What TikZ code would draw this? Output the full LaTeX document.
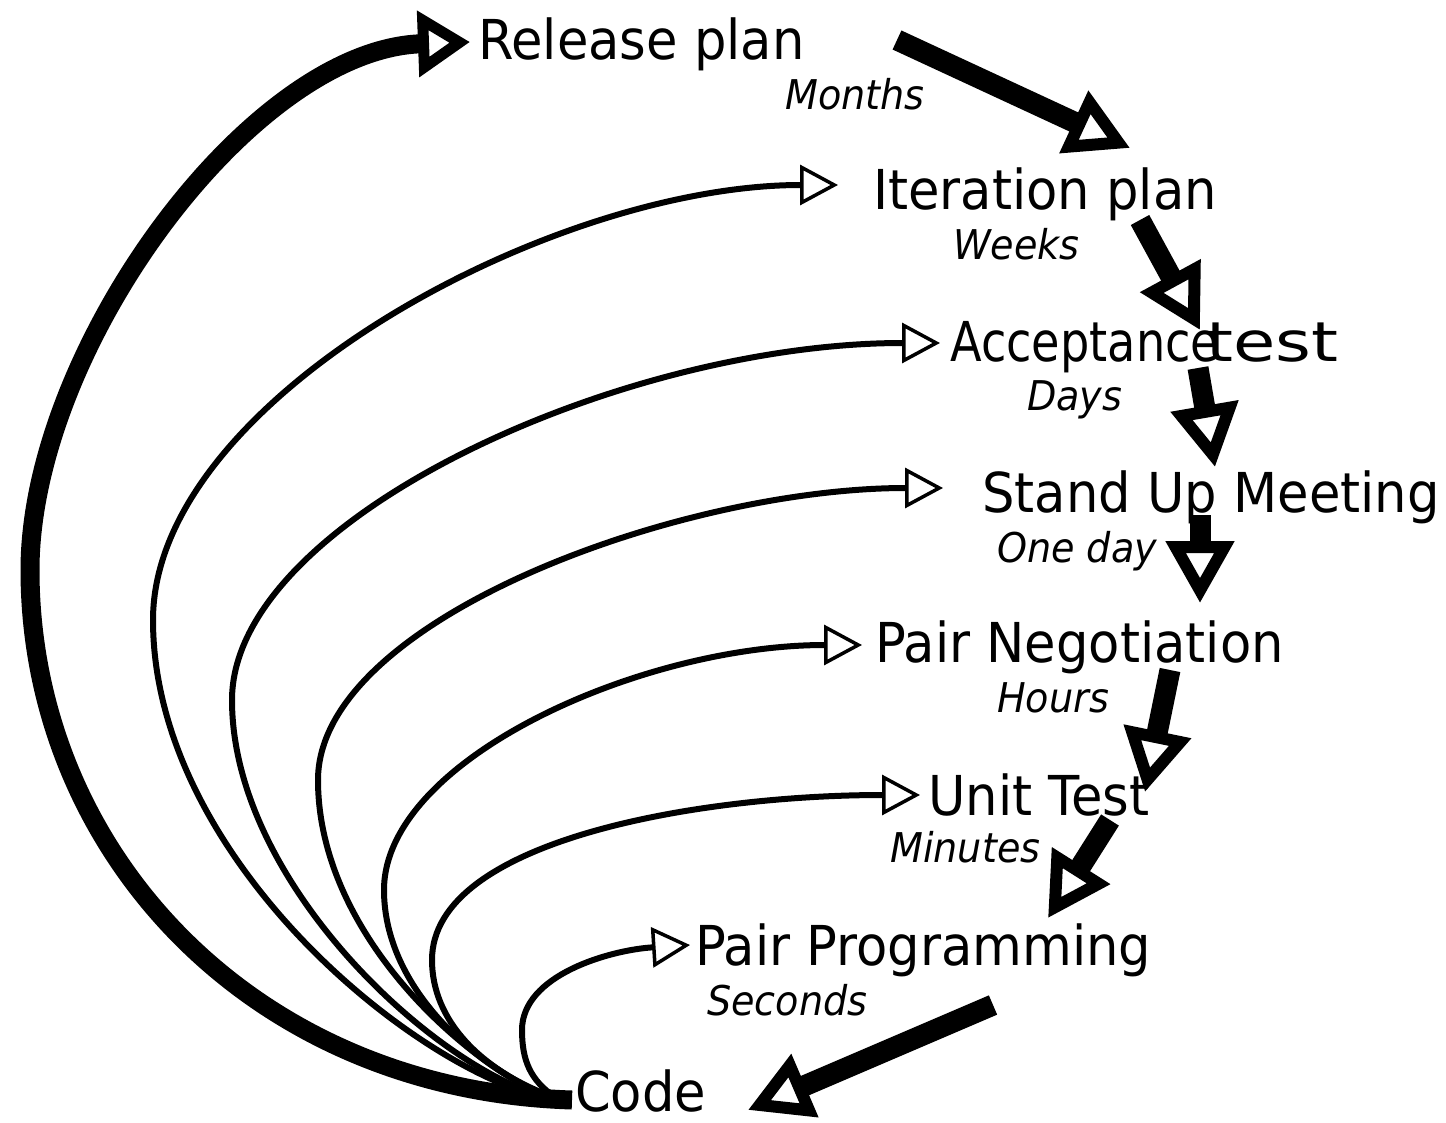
\documentclass[tikz,border=0pt]{standalone}
\usepackage{fontspec}
\setmainfont{DejaVu Sans}[FakeStretch=0.93]
\newfontfamily\accfont{DejaVu Sans}[FakeStretch=0.84]
\newfontfamily\testfont{DejaVu Sans}[FakeStretch=1.25]
\usetikzlibrary{arrows.meta}
\begin{document}
\begin{tikzpicture}[x=1pt,y=-1pt,
  lbl/.style={anchor=base west, inner sep=0pt, font=\fontsize{55}{60}\selectfont},
  tm/.style={anchor=base west, inner sep=0pt, font=\fontsize{41}{46}\selectfont\itshape},
  chain/.style={line width=21pt, -{Triangle[open, length=62pt, width=66pt, line width'=12pt]}},
  back/.style={line width=19pt, -{Triangle[open, length=52pt, width=64pt, line width'=11pt]}},
  thin/.style={line width=6pt, -{Triangle[open, length=38pt, width=40pt, line width'=3.5pt]}},
]
\useasboundingbox (0,0) rectangle (1446,1123);

\node[lbl] (rel) at (478,60) {Release plan};
\node[tm] (mon) at (785,110) {Months};
\node[lbl] (itr) at (873,210) {Iteration plan};
\node[tm] (wks) at (953,260) {Weeks};
\node[lbl,font=\fontsize{55}{60}\accfont] (acc) at (950,362) {Acceptance};
\node[lbl,font=\fontsize{55}{60}\testfont] (acct) at (1206,362) {test};
\node[tm] (days) at (1027,410) {Days};
\node[lbl] (sum) at (982,512) {Stand Up Meeting};
\node[tm] (oneday) at (997,562) {One day};
\node[lbl] (pn) at (875,662) {Pair Negotiation};
\node[tm] (hrs) at (997,712) {Hours};
\node[lbl] (ut) at (928,815) {Unit Test};
\node[tm] (mins) at (890,862) {Minutes};
\node[lbl] (pp) at (695,965) {Pair Programming};
\node[tm] (secs) at (707,1015) {Seconds};
\node[lbl] (code) at (575,1111) {Code};

% chain arrows
\draw[chain] ([shift={(419,-20)}]rel.base west) -- ([shift={(257,-62)}]itr.base west);
\draw[chain] ([shift={(267,10)}]itr.base west) -- ([shift={(250,-32)}]acc.base west);
\draw[chain] ([shift={(248,6)}]acc.base west) -- ([shift={(233,-45)}]sum.base west);
\draw[chain] ([shift={(218,3)}]sum.base west) -- ([shift={(325,-59)}]pn.base west);
\draw[chain] ([shift={(295,8)}]pn.base west) -- ([shift={(217,-23)}]ut.base west);
\draw[chain] ([shift={(182,5)}]ut.base west) -- ([shift={(353,-47)}]pp.base west);
\draw[chain] ([shift={(298,40)}]pp.base west) -- ([shift={(173,-1)}]code.base west);

% back arrow code -> release
\draw[back] ([shift={(-3,-11)}]code.base west) .. controls (250,1090) and (30,850) .. (30,570)
  .. controls (30,350) and (250,50) .. ([shift={(-8,-18)}]rel.base west);

% thin arrows from code
\draw[thin] ([shift={(-35,-14)}]code.base west) .. controls (400,1060) and (153,850) .. (153,620)
  .. controls (153,400) and (550,185) .. ([shift={(-35,-25)}]itr.base west);
\draw[thin] ([shift={(-30,-14)}]code.base west) .. controls (430,1065) and (232,880) .. (232,700)
  .. controls (232,520) and (620,343) .. ([shift={(-10,-19)}]acc.base west);
\draw[thin] ([shift={(-27,-14)}]code.base west) .. controls (460,1060) and (318,930) .. (318,780)
  .. controls (318,620) and (680,488) .. ([shift={(-39,-24)}]sum.base west);
\draw[thin] ([shift={(-25,-14)}]code.base west) .. controls (480,1070) and (384,990) .. (384,890)
  .. controls (384,760) and (640,645) .. ([shift={(-13,-17)}]pn.base west);
\draw[thin] ([shift={(-22,-14)}]code.base west) .. controls (480,1070) and (432,1020) .. (432,960)
  .. controls (432,840) and (700,795) .. ([shift={(-8,-20)}]ut.base west);
\draw[thin] ([shift={(-20,-14)}]code.base west) .. controls (530,1080) and (522,1060) .. (522,1030)
  .. controls (522,975) and (610,950) .. ([shift={(-5,-20)}]pp.base west);
\end{tikzpicture}
\end{document}
